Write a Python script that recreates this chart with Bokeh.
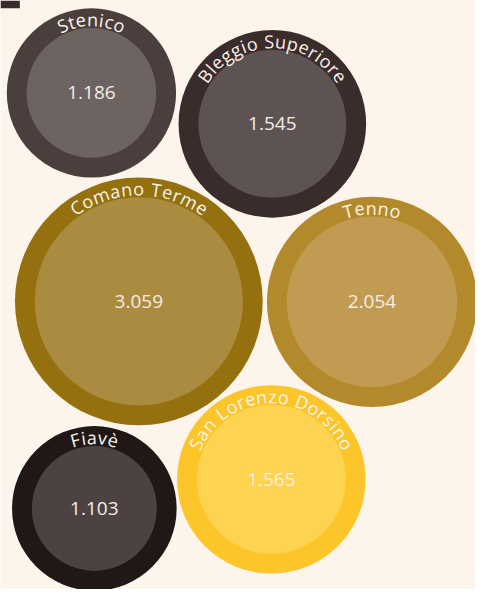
import math
from bokeh.plotting import figure
from bokeh.models import Range1d, ColumnDataSource
from bokeh.core.properties import value
from bokeh.embed import file_html
from bokeh.resources import INLINE

# ---- data ----
names = ["Stenico", "Bleggio Superiore", "Comano Terme", "Tenno", "Fiavè", "San Lorenzo Dorsino"]
values = [1.186, 1.545, 3.059, 2.054, 1.103, 1.565]
value_labels = ["1.186", "1.545", "3.059", "2.054", "1.103", "1.565"]

# ---- layout (reference pixel coordinates of bubble centres) ----
centers_x = [94, 281, 143, 384, 97, 280]
centers_y = [95.5, 127.5, 311, 311.5, 525, 495]

outer_colors = ["#4b3f3d", "#3a2c2b", "#94700f", "#b38a2b", "#201716", "#fcc62a"]
inner_colors = ["#6d6360", "#5d5352", "#aa8b3f", "#c29b52", "#4b4241", "#fdd44f"]
BG = "#fdf4eb"

W_REF, H_REF = 491, 605
W, H = 475, 589
s = W / W_REF
y_span = H / s

K = 61.5      # inner radius per sqrt(value), in reference px
RING = 20.5   # ring width

p = figure(width=W, height=H, output_backend="svg", toolbar_location=None,
           x_range=Range1d(0, W_REF), y_range=Range1d(H_REF - y_span, H_REF),
           min_border=0)
p.axis.visible = False
p.grid.visible = False
p.outline_line_color = None
p.background_fill_color = BG
p.border_fill_color = BG

def Y(yp):
    return H_REF - yp

inner_r = [K * math.sqrt(v) for v in values]
outer_r = [r + RING for r in inner_r]
cy = [Y(v) for v in centers_y]

src = ColumnDataSource(dict(x=centers_x, y=cy, ro=outer_r, ri=inner_r,
                            co=outer_colors, ci=inner_colors, lab=value_labels))
p.circle(x="x", y="y", radius="ro", fill_color="co", line_color=None, source=src)
p.circle(x="x", y="y", radius="ri", fill_color="ci", line_color=None, source=src)

# small dark tab at top-left
p.quad(left=[0], right=[20], bottom=[Y(8)], top=[Y(0)], fill_color="#3a2c2b", line_color=None)

p.text(x="x", y="y", text="lab", source=src, text_align="center", text_baseline="middle",
       text_font=value("Open Sans"), text_font_size=value("19px"), text_color="#f5ede6")

# curved labels
CW = {'S': .537, 'B': .632, 'C': .627, 'T': .558, 'F': .532, 'D': .725, 'L': .531,
      'a': .556, 'c': .476, 'd': .613, 'e': .561, 'g': .548, 'i': .253, 'l': .253,
      'm': .929, 'n': .614, 'o': .604, 'p': .613, 'r': .408, 's': .477, 't': .353,
      'u': .614, 'v': .501, 'z': .477, 'è': .561, ' ': .26}
FS = 18.0              # screen px
SP = 1.3               # tracking, screen px
cx_l, cy_l, ch_l, ang_l = [], [], [], []
for name, x0, y0, ro in zip(names, centers_x, cy, outer_r):
    rr = ro - 11.5
    widths = [(CW.get(c, .55) * FS) / s for c in name]
    sp = SP / s
    total = sum(widths) + sp * (len(name) - 1)
    pos = 0.0
    for c, w in zip(name, widths):
        mid = pos + w / 2
        th = math.pi / 2 + (total / 2 - mid) / rr
        pos += w + sp
        if c == ' ':
            continue
        cx_l.append(x0 + rr * math.cos(th))
        cy_l.append(y0 + rr * math.sin(th))
        ch_l.append(c)
        ang_l.append(th - math.pi / 2)

p.text(x=cx_l, y=cy_l, text=ch_l, angle=ang_l, text_align="center", text_baseline="middle",
       text_font=value("Open Sans"), text_font_size=value(f"{FS}px"), text_color="#fbf3ea")

open("out.html", "w").write(file_html(p, INLINE))
